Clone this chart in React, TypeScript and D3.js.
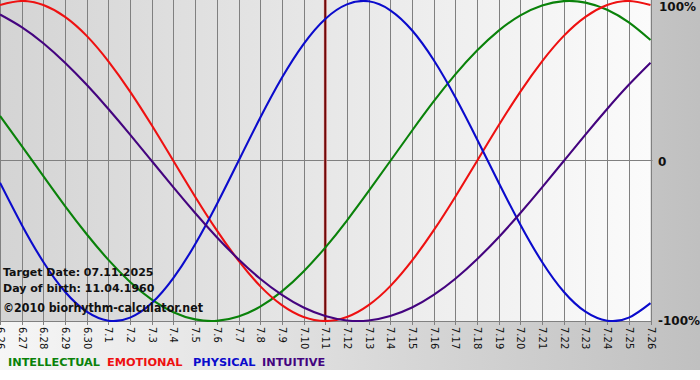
import React, { useEffect } from 'react';
import * as d3 from 'd3';

const dayLabels = ['6.26','6.27','6.28','6.29','6.30','7.1','7.2','7.3','7.4','7.5','7.6','7.7','7.8','7.9','7.10','7.11','7.12','7.13','7.14','7.15','7.16','7.17','7.18','7.19','7.20','7.21','7.22','7.23','7.24','7.25','7.26'];
const targetIndex = 15;

const intellectual = [0.282,0.095,-0.095,-0.282,-0.458,-0.618,-0.756,-0.866,-0.945,-0.990,-0.999,-0.972,-0.910,-0.815,-0.690,-0.541,-0.372,-0.189,0,0.189,0.372,0.541,0.690,0.815,0.910,0.972,0.999,0.990,0.945,0.866,0.756];
const emotional = [0.975,1,0.975,0.901,0.782,0.623,0.434,0.223,0,-0.223,-0.434,-0.623,-0.782,-0.901,-0.975,-1,-0.975,-0.901,-0.782,-0.623,-0.434,-0.223,0,0.223,0.434,0.623,0.782,0.901,0.975,1,0.975];
const physical = [-0.136,-0.398,-0.631,-0.817,-0.942,-0.998,-0.979,-0.888,-0.731,-0.520,-0.270,0,0.270,0.520,0.731,0.888,0.979,0.998,0.942,0.817,0.631,0.398,0.136,-0.136,-0.398,-0.631,-0.817,-0.942,-0.998,-0.979,-0.888];
const intuitive = [0.916,0.837,0.736,0.614,0.476,0.325,0.165,0,-0.165,-0.325,-0.476,-0.614,-0.736,-0.837,-0.916,-0.969,-0.997,-0.997,-0.969,-0.916,-0.837,-0.736,-0.614,-0.476,-0.325,-0.165,0,0.165,0.325,0.476,0.614];

const seriesNames = ['INTELLECTUAL', 'EMOTIONAL', 'PHYSICAL', 'INTUITIVE'];
const seriesColors = ['#0a820a', '#ee1111', '#0b0bcc', '#44047f'];
const seriesData = [intellectual, emotional, physical, intuitive];

const infoLines = ['Target Date: 07.11.2025', 'Day of birth: 11.04.1960'];
const copyright = '\u00a92010 biorhythm-calculator.net';

const W = 700;
const H = 380;
const plotW = 650.5;
const plotTop = 1;
const plotBottom = 321;
const chartBottom = 370;

export default function App() {
  useEffect(() => {
    document.body.style.margin = '0';
  }, []);

  const x = d3.scaleLinear().domain([0, dayLabels.length - 1]).range([0, plotW]);
  const y = d3.scaleLinear().domain([-1, 1]).range([plotBottom, plotTop]);
  const line = d3.line<number>().x((_, i) => x(i)).y((d) => y(d)).curve(d3.curveNatural);

  const font = "'DejaVu Sans', Verdana, sans-serif";
  const legendX = [8, 107, 193, 262];

  return (
    <svg width={W} height={H} style={{ display: 'block' }} fontFamily={font}>
      <defs>
        <linearGradient id="bgGrad" x1="0" y1="0" x2="1" y2="0">
          <stop offset="0" stopColor="#f6f6f6" />
          <stop offset="1" stopColor="#c0c0c0" />
        </linearGradient>
        <linearGradient id="plotGrad" x1="0" y1="0" x2="1" y2="0">
          <stop offset="0" stopColor="#d4d4d4" />
          <stop offset="1" stopColor="#fbfbfb" />
        </linearGradient>
        <clipPath id="plotClip">
          <rect x={0} y={0} width={plotW + 1} height={plotBottom + 1} />
        </clipPath>
      </defs>
      <rect x={0} y={0} width={W} height={H} fill="#ffffff" />
      <rect x={0} y={0} width={W} height={chartBottom} fill="url(#bgGrad)" />
      <rect x={0} y={0} width={plotW} height={plotBottom} fill="url(#plotGrad)" />

      {dayLabels.map((d, i) => (
        <line key={'g' + i} x1={Math.round(x(i)) + 0.5} x2={Math.round(x(i)) + 0.5} y1={0} y2={plotBottom + 4} stroke="#808080" strokeWidth={1} />
      ))}
      <line x1={0} x2={plotW + 2} y1={Math.round(y(0)) - 0.5} y2={Math.round(y(0)) - 0.5} stroke="#808080" strokeWidth={1} />
      <line x1={0} x2={plotW + 1} y1={plotBottom + 0.5} y2={plotBottom + 0.5} stroke="#808080" strokeWidth={1} />

      <line x1={x(targetIndex)} x2={x(targetIndex)} y1={0} y2={plotBottom} stroke="#e8a0a0" strokeWidth={3} />
      <line x1={x(targetIndex)} x2={x(targetIndex)} y1={0} y2={plotBottom} stroke="#700808" strokeWidth={2} />

      <g clipPath="url(#plotClip)">
        {seriesData.map((s, k) => (
          <path key={'s' + k} d={line(s) || ''} fill="none" stroke={seriesColors[k]} strokeWidth={2.1} />
        ))}
      </g>

      {infoLines.map((t, i) => (
        <text key={'i' + i} x={3} y={276 + i * 15.5} fontSize={11} fontWeight="bold" fill="#111">{t}</text>
      ))}
      <text x={3} y={312} fontSize={12} fontWeight="bold" fill="#111" textLength={200} lengthAdjust="spacingAndGlyphs">{copyright}</text>

      {dayLabels.map((d, i) => (
        <text key={'l' + i} transform={`translate(${Math.round(x(i)) + 0.5},${plotBottom + 6}) rotate(90)`} fontSize={10} dy="0.35em" fill="#111">{d}</text>
      ))}

      <text x={659} y={11} fontSize={12} fontWeight="bold" fill="#111">100%</text>
      <text x={658} y={166} fontSize={12} fontWeight="bold" fill="#111">0</text>
      <text x={658} y={325} fontSize={12} fontWeight="bold" fill="#111">-100%</text>

      {seriesNames.map((n, k) => (
        <text key={'n' + k} x={legendX[k]} y={366} fontSize={11.3} fontWeight="bold" fill={seriesColors[k]}>{n}</text>
      ))}
    </svg>
  );
}
